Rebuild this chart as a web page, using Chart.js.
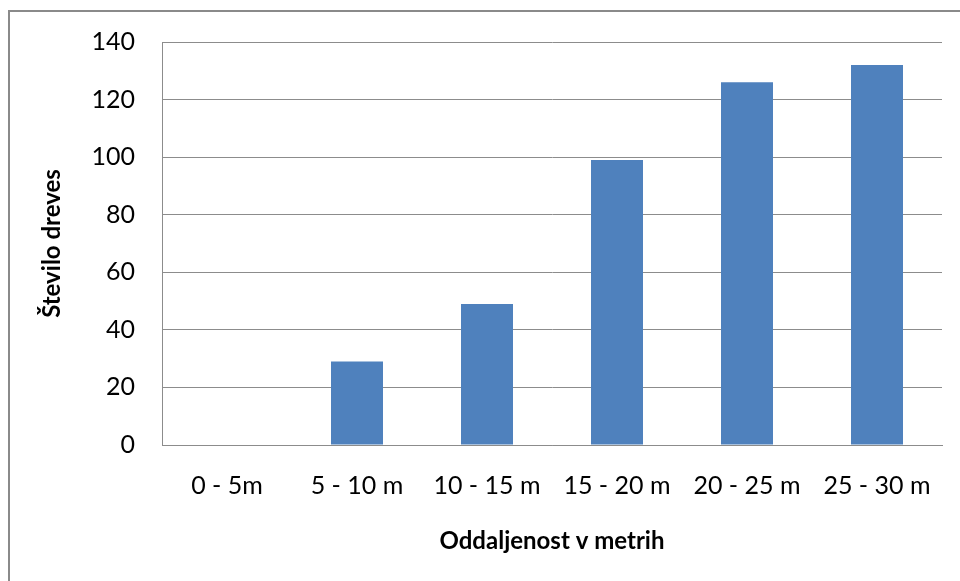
<!DOCTYPE html>
<html>
<head>
<meta charset="utf-8">
<script src="https://cdn.jsdelivr.net/npm/chart.js@4/dist/chart.umd.min.js"></script>
<style>
  html, body { margin: 0; padding: 0; background: #fff; }
  #wrap { position: relative; width: 960px; height: 581px; }
</style>
</head>
<body>
<div id="wrap"><canvas id="c" width="960" height="581"></canvas></div>
<script>
// Število dreves po oddaljenosti
const categories = ['0 - 5m', '5 - 10 m', '10 - 15 m', '15 - 20 m', '20 - 25 m', '25 - 30 m'];
const treeCounts = [0, 29, 49, 99, 126, 132];
const yTicks = [0, 20, 40, 60, 80, 100, 120, 140];

const FONT = 'Lato, "Liberation Sans", sans-serif';

// Frame around the chart (left and top edges)
const framePlugin = {
  id: 'frame',
  beforeDraw(chart) {
    const ctx = chart.ctx;
    ctx.save();
    ctx.fillStyle = '#ffffff';
    ctx.fillRect(0, 0, chart.width, chart.height);
    ctx.strokeStyle = '#8a8a8a';
    ctx.lineWidth = 2;
    ctx.beginPath();
    ctx.moveTo(9, chart.height);
    ctx.lineTo(9, 11);
    ctx.lineTo(chart.width, 11);
    ctx.stroke();
    ctx.restore();
  }
};

new Chart(document.getElementById('c'), {
  type: 'bar',
  data: {
    labels: categories,
    datasets: [{
      data: treeCounts,
      backgroundColor: '#4f81bd',
      borderWidth: 0,
      categoryPercentage: 1.0,
      barPercentage: 0.4
    }]
  },
  options: {
    responsive: false,
    animation: false,
    devicePixelRatio: 1,
    layout: { padding: { left: 0, top: 41, right: 18, bottom: 0 } },
    plugins: {
      legend: { display: false },
      tooltip: { enabled: false }
    },
    scales: {
      x: {
        grid: { display: false, drawTicks: false },
        border: { display: true, color: '#8c8c8c', width: 1 },
        ticks: { color: '#000', padding: 26, font: { family: FONT, size: 25 }, maxRotation: 0, autoSkip: false },
        title: {
          display: true,
          text: 'Oddaljenost v metrih',
          color: '#000',
          font: { family: FONT, size: 24, weight: 'bold', lineHeight: 1.2 },
          padding: { top: 0, bottom: 25 }
        },
        afterFit(scale) { scale.height = 136; }
      },
      y: {
        min: 0,
        max: 140,
        afterBuildTicks(scale) { scale.ticks = yTicks.map(v => ({ value: v })); },
        grid: { color: '#8c8c8c', lineWidth: 1, drawTicks: false },
        border: { display: true, color: '#8c8c8c', width: 1 },
        ticks: { color: '#000', padding: 27, font: { family: FONT, size: 25 } },
        title: {
          display: true,
          text: 'Število dreves',
          color: '#000',
          font: { family: FONT, size: 24, weight: 'bold', lineHeight: 1.2 },
          padding: { top: 38, bottom: 0 }
        },
        afterFit(scale) { scale.width = 162; }
      }
    }
  },
  plugins: [framePlugin]
});
</script>
</body>
</html>
